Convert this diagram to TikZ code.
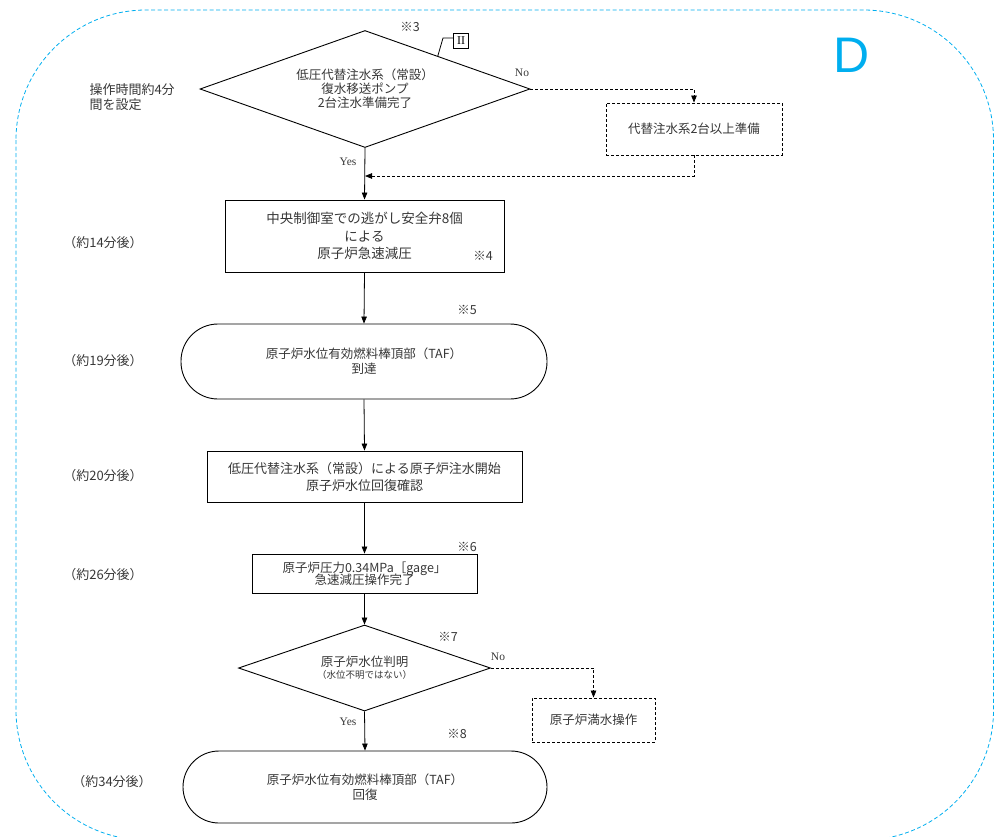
\documentclass[tikz,border=0pt]{standalone}
\usepackage{fontspec}
\setmainfont{Noto Sans CJK JP}
\newfontfamily\latinserif{Liberation Serif}
\newfontfamily\dfont{Liberation Sans}
\usetikzlibrary{shapes.geometric,arrows.meta,calc}
\definecolor{bordercyan}{RGB}{0,174,239}
\definecolor{txt}{RGB}{55,55,55}
\begin{document}
\begin{tikzpicture}[x=1pt,y=-1pt,
  jp/.style={font=\fontsize{12.5}{15}\selectfont, text=txt, align=center},
  side/.style={font=\fontsize{13}{15}\selectfont, text=txt},
  note/.style={font=\fontsize{12.5}{14}\selectfont, text=txt, inner sep=0pt},
  yn/.style={font=\latinserif\fontsize{11.5}{13}\selectfont, text=txt, inner sep=0pt},
  procbox/.style={jp, draw=black, line width=0.9pt, rectangle, inner sep=0pt},
  dashbox/.style={jp, draw=black, line width=0.9pt, rectangle, inner sep=0pt, dash pattern=on 3pt off 2pt},
  decide/.style={jp, draw=black, line width=0.9pt, diamond, inner sep=0pt},
  term/.style={jp, draw=black, line width=0.9pt, rectangle, inner sep=0pt},
  arr/.style={-{Triangle[length=7pt,width=5.5pt]}, line width=0.8pt, black},
  darr/.style={arr, dash pattern=on 3pt off 2pt},
]
\useasboundingbox (0,0) rectangle (995,836);
\begin{scope}
\clip (0,0) rectangle (995,836);
\draw[bordercyan, line width=0.8pt, dash pattern=on 4pt off 2.5pt, rounded corners=130pt]
  (16,10) rectangle (993.5,840);
\end{scope}

\node[font=\dfont\fontsize{50}{50}\selectfont, text=bordercyan, inner sep=0pt] (D) at (852,55) {D};

% main flow
\node[decide, aspect=2.82, minimum width=330pt, minimum height=117pt] (d1) at (365,89)
  {低圧代替注水系（常設）\\[-1pt]復水移送ポンプ\\[-1pt]2台注水準備完了};
\node[dashbox, minimum width=176pt, minimum height=52pt] (b2) at (694,129) {代替注水系2台以上準備};
\node[procbox, font=\fontsize{13.5}{17.5}\selectfont, minimum width=279pt, minimum height=72pt] (b3) at (364.5,236)
  {中央制御室での逃がし安全弁8個\\による\\原子炉急速減圧};
\node[term, rounded corners=37pt, minimum width=366pt, minimum height=75pt] (s1) at (364,361.5)
  {原子炉水位有効燃料棒頂部（TAF）\\到達};
\node[procbox, font=\fontsize{13}{17}\selectfont, minimum width=315pt, minimum height=51pt] (b4) at (364.5,476.5)
  {低圧代替注水系（常設）による原子炉注水開始\\原子炉水位回復確認};
\node[procbox, minimum width=225pt, minimum height=39pt] (b5) at (364.5,573.5)
  {原子炉圧力0.34MPa［gage」\\[-3pt]急速減圧操作完了};
\node[decide, aspect=2.93, minimum width=252pt, minimum height=86pt] (d2) at (364.5,668)
  {原子炉水位判明\\[-3pt]{\fontsize{9.5}{11}\selectfont（水位不明ではない）}};
\node[dashbox, minimum width=123pt, minimum height=44pt] (b6) at (593.5,720) {原子炉満水操作};
\node[term, rounded corners=36pt, minimum width=364pt, minimum height=72pt] (s2) at (365,787)
  {原子炉水位有効燃料棒頂部（TAF）\\回復};

% side labels
\node[side, anchor=west, align=left] (t0) at (86,97) {操作時間約4分\\間を設定};
\node[side] (t1) at (103,243) {（約14分後）};
\node[side] (t2) at (103,361) {（約19分後）};
\node[side] (t3) at (103,476) {（約20分後）};
\node[side] (t4) at (103,575) {（約26分後）};
\node[side] (t5) at (112,782) {（約34分後）};

% notes
\node[note] (n3) at (410,27) {※3};
\node[note] (n4) at (483,256) {※4};
\node[note] (n5) at (467,310) {※5};
\node[note] (n6) at (467,547) {※6};
\node[note] (n7) at (448,637) {※7};
\node[note] (n8) at (457,734) {※8};

\node[yn] (no1) at (522,73) {No};
\node[yn] (yes1) at (348,162) {Yes};
\node[yn] (no2) at (498,657) {No};
\node[yn] (yes2) at (348,722) {Yes};

% II marker
\node[draw=black, line width=0.8pt, inner sep=0pt, minimum width=15pt, minimum height=15pt,
  font=\latinserif\fontsize{12}{12}\selectfont] (II) at (461,40.5) {II};
\coordinate (lk0) at ($(d1.north)!0.44!(d1.east)$);
\coordinate (lk1) at (443,38);
\draw[line width=0.8pt] (lk0) -- (lk1) -- (lk1 -| II.west);

% connectors
\coordinate (j1) at (365,176);
\draw[arr] (d1.south) -- (b3.north);
\draw[darr] (d1.east) -| (b2.north);
\draw[darr] (b2.south) |- (j1);
\draw[arr] (b3.south) -- (s1.north);
\draw[arr] (s1.south) -- (b4.north);
\draw[arr] (b4.south) -- (b5.north);
\draw[arr] (b5.south) -- (d2.north);
\draw[darr] (d2.east) -| (b6.north);
\draw[arr] (d2.south) -- (s2.north);
\end{tikzpicture}
\end{document}
